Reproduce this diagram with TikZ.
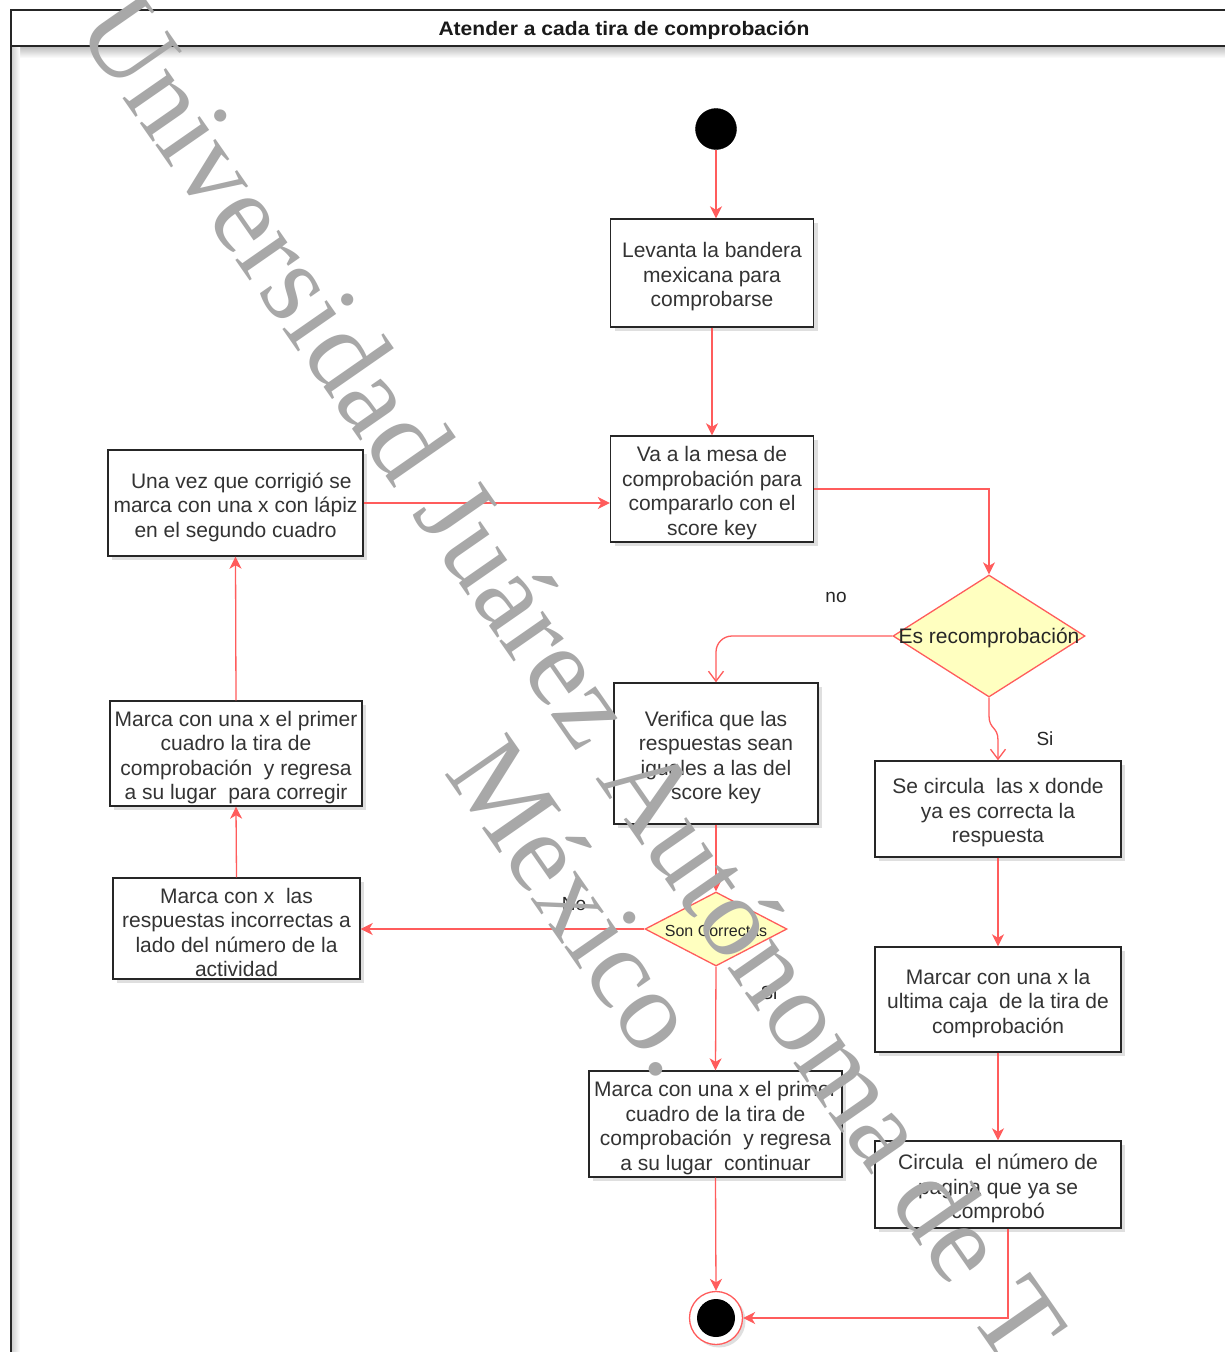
\documentclass[tikz,border=0pt]{standalone}
\usepackage{fontspec}
\setmainfont{Liberation Sans}
\newfontfamily\titlefont[FakeStretch=1.08]{Liberation Sans}
\newfontfamily\wmfont{Liberation Serif}
\usetikzlibrary{arrows.meta,shapes.geometric,shadows,calc}
\definecolor{lred}{HTML}{FF5C5C}
\definecolor{dfill}{HTML}{FFFFC0}
\definecolor{txt}{HTML}{333333}
\definecolor{wm}{HTML}{A8A8A8}
\tikzset{
  stepbox/.style={draw=black!85, line width=1.4pt, fill=white, inner sep=0pt,
    drop shadow={shadow xshift=4pt, shadow yshift=-4pt, fill=black!35, opacity=0.35}},
  steptext/.style={text=txt, align=center, inner sep=0pt, font=\fontsize{21}{24.5}\selectfont},
  decision/.style={diamond, draw=lred, line width=1.3pt, fill=dfill, inner sep=0pt, text=black!85},
  flow/.style={draw=lred, line width=1.3pt, -{Stealth[length=12pt,width=12pt,inset=3.5pt]}},
  flowv/.style={draw=lred, line width=1.3pt, -{Straight Barb[length=10pt,width=15pt]}},
  lbl/.style={text=black!85, font=\fontsize{19}{20}\selectfont, inner sep=0pt},
  wmark/.style={text=wm, font=\wmfont\fontsize{115}{140}\selectfont, inner sep=0pt, rotate=-55.2, anchor=base west}
}
\newcommand{\stepnode}[6]{%
  \node[stepbox, minimum width=#4pt, minimum height=#5pt] (#1) at (#2,#3) {};
  \node[steptext] (#1t) at ($(#1.center)+(0,4)$) {#6};}
\begin{document}
\begin{tikzpicture}[x=1pt,y=-1pt]
\useasboundingbox (0,0) rectangle (1225,1352);
\clip (0,0) rectangle (1225,1352);
\fill[white] (0,0) rectangle (1225,1352);
% frame
\shade[top color=black!25, bottom color=white] (12,47) rectangle (1225,58);
\shade[left color=black!18, right color=white] (12,47) rectangle (20,1352);
\draw[black!85, line width=2pt] (1240,10) -- (11,10) -- (11,1360);
\draw[black!85, line width=2pt] (11,46) -- (1240,46);
\node[inner sep=0pt, text=black!90, font=\titlefont\bfseries\fontsize{19.5}{21}\selectfont] (title) at (624,30.5) {Atender a cada tira de comprobación};

% nodes
\node[circle, fill=black, draw=black, minimum size=41pt, inner sep=0pt] (start) at (716,129) {};
\stepnode{b1}{712}{273}{203}{108}{Levanta la bandera\\mexicana para\\comprobarse}
\stepnode{b2}{712}{489}{203}{106}{Va a la mesa de\\comprobación para\\compararlo con el\\score key}
\node[decision, minimum width=192pt, minimum height=122pt] (d1) at (989,636) {};
\node[text=black!85, inner sep=0pt, font=\fontsize{21}{24}\selectfont] (d1t) at ($(d1.center)+(0,2)$) {Es recomprobación};
\stepnode{b3}{716}{753.5}{204}{141}{Verifica que las\\respuestas sean\\iguales a las del\\score key}
\stepnode{b4}{998}{809}{246}{96}{Se circula\ \ las x donde\\ya es correcta la\\respuesta}
\stepnode{b5}{998}{999.5}{246}{105}{Marcar con una x la\\ultima caja\ \ de la tira de\\comprobación}
\stepnode{b6}{998}{1184.5}{246}{87}{Circula\ \ el número de\\pagina que ya se\\comprobó}
\node[decision, minimum width=142pt, minimum height=74pt] (d2) at (716,929) {};
\node[text=black!85, inner sep=0pt, font=\fontsize{16}{18}\selectfont] (d2t) at ($(d2.center)+(0,1.5)$) {Son Correctas};
\stepnode{b7}{236.5}{928.5}{247}{101}{Marca con x\ \ las\\respuestas incorrectas a\\lado del número de la\\actividad}
\stepnode{b8}{715.5}{1124}{253}{106}{Marca con una x el primer\\cuadro de la tira de\\comprobación\ \ y regresa\\a su lugar\ \ continuar}
\stepnode{b9}{236}{753.5}{252}{105}{Marca con una x el primer\\cuadro la tira de\\comprobación\ \ y regresa\\a su lugar\ \ para corregir}
\stepnode{b10}{235.5}{503}{255}{106}{\ \ Una vez que corrigió se\\marca con una x con lápiz\\en el segundo cuadro}
\node[circle, draw=lred, fill=white, line width=1.3pt, minimum size=53pt, inner sep=0pt,
  drop shadow={shadow xshift=3pt, shadow yshift=-3pt, fill=black!35, opacity=0.35}] (endc) at (716,1318) {};
\node[circle, fill=black, minimum size=38pt, inner sep=0pt] (endin) at (endc.center) {};

% labels
\node[lbl] (lno1) at (836,597) {no};
\node[lbl] (lsi1) at (1045,739) {Si};
\node[lbl] (lno2) at (574,904) {No};
\node[lbl] (lsi2) at (769,993) {Si};

% connectors
\coordinate (c6) at ($(b6.south)+(10,0)$);
\draw[flow] (start.south) -- (start.south |- b1.north);
\draw[flow] (b1.south) -- (b2.north);
\draw[flow] (b2.east) -| (d1.north);
\draw[flowv, rounded corners=16pt] (d1.west) -| (b3.north);
\draw[flowv] (d1.south) -- ++(0,18) .. controls +(0,14) and +(0,-14) .. ($(b4.north)+(0,-20)$) -- (b4.north);
\draw[flow] (b4.south) -- (b5.north);
\draw[flow] (b5.south) -- (b6.north);
\draw[flow] (c6) |- (endc.east);
\draw[flow] (b3.south) -- (d2.north);
\draw[flow] (d2.west) -- (d2.west -| b7.east);
\draw[flow] (d2.south) -- (b8.north);
\draw[flow] (b8.south) -- (endc.north);
\draw[flow] (b7.north) -- (b9.south);
\draw[flow] (b9.north) -- (b10.south);
\draw[flow] (b10.east) -- (b10.east -| b2.west);

% watermark
\node[wmark] (wm1) at (74,28) {Universidad Juárez Autónoma de T};
\node[wmark] (wm2) at (443,772) {México.};
\end{tikzpicture}
\end{document}
